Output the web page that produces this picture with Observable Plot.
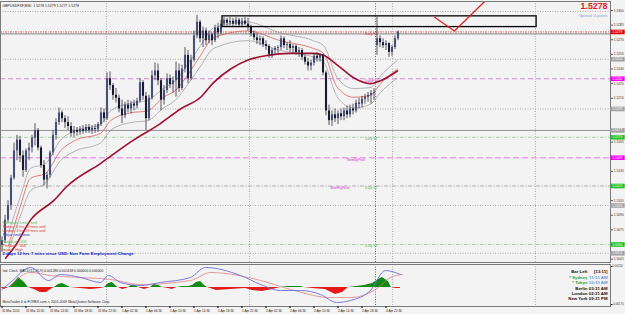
<!DOCTYPE html>
<html><head><meta charset="utf-8">
<script src="https://cdn.jsdelivr.net/npm/d3@7"></script>
<script src="https://cdn.jsdelivr.net/npm/@observablehq/plot@0.6"></script>
<style>
html,body{margin:0;padding:0;background:#f3f3f3;}
#wrap{position:relative;width:625px;height:314px;overflow:hidden;background:#f3f3f3;}
#main,#sub{position:absolute;left:0;}
#main{top:0;} #sub{top:263px;}
svg{overflow:visible;}
</style></head><body><div id="wrap"><div id="main"></div><div id="sub"></div></div>
<script>
// ---------- data ----------
const open = [
1.5059,1.5064,1.5085,1.5100,1.5128,1.5156,1.5167,1.5151,1.5136,1.5156,
1.5159,1.5169,1.5177,1.5159,1.5141,1.5126,1.5131,1.5154,1.5172,1.5185,
1.5195,1.5189,1.5185,1.5181,1.5174,1.5177,1.5175,1.5178,1.5176,1.5180,
1.5177,1.5179,1.5178,1.5183,1.5195,1.5189,1.5230,1.5223,1.5213,1.5210,
1.5199,1.5192,1.5203,1.5199,1.5204,1.5202,1.5207,1.5226,1.5212,1.5189,
1.5210,1.5233,1.5238,1.5228,1.5208,1.5218,1.5230,1.5224,1.5228,1.5238,
1.5220,1.5240,1.5254,1.5230,1.5249,1.5274,1.5288,1.5271,1.5279,1.5269,
1.5275,1.5269,1.5282,1.5277,1.5286,1.5290,1.5287,1.5289,1.5286,1.5290,
1.5285,1.5289,1.5286,1.5283,1.5276,1.5272,1.5269,1.5271,1.5265,1.5263,
1.5255,1.5259,1.5261,1.5262,1.5271,1.5264,1.5265,1.5261,1.5263,1.5257,
1.5259,1.5252,1.5247,1.5243,1.5246,1.5253,1.5251,1.5254,1.5236,1.5197,
1.5187,1.5193,1.5189,1.5194,1.5191,1.5197,1.5193,1.5199,1.5197,1.5205,
1.5204,1.5209,1.5211,1.5213,1.5215,1.5264,1.5271,1.5267,1.5264,1.5266,
1.5257,1.5262,1.5271];
const high = [
1.5068,1.5090,1.5105,1.5131,1.5164,1.5172,1.5171,1.5156,1.5158,1.5164,
1.5172,1.5184,1.5179,1.5161,1.5146,1.5134,1.5156,1.5177,1.5189,1.5200,
1.5197,1.5192,1.5191,1.5185,1.5181,1.5180,1.5181,1.5182,1.5183,1.5183,
1.5182,1.5183,1.5185,1.5200,1.5199,1.5236,1.5237,1.5225,1.5220,1.5213,
1.5208,1.5206,1.5208,1.5207,1.5208,1.5210,1.5230,1.5228,1.5216,1.5213,
1.5238,1.5246,1.5245,1.5230,1.5223,1.5235,1.5234,1.5232,1.5247,1.5245,
1.5244,1.5262,1.5259,1.5254,1.5279,1.5295,1.5290,1.5283,1.5282,1.5279,
1.5277,1.5285,1.5287,1.5290,1.5293,1.5292,1.5293,1.5292,1.5293,1.5292,
1.5292,1.5293,1.5292,1.5285,1.5279,1.5276,1.5274,1.5273,1.5269,1.5265,
1.5261,1.5263,1.5264,1.5274,1.5273,1.5267,1.5269,1.5265,1.5265,1.5262,
1.5261,1.5254,1.5251,1.5249,1.5256,1.5257,1.5255,1.5255,1.5238,1.5203,
1.5197,1.5199,1.5197,1.5199,1.5200,1.5202,1.5203,1.5204,1.5208,1.5210,
1.5212,1.5214,1.5216,1.5218,1.5220,1.5293,1.5274,1.5271,1.5269,1.5267,
1.5264,1.5274,1.5279];
const low = [
1.5052,1.5061,1.5082,1.5095,1.5126,1.5146,1.5144,1.5129,1.5134,1.5146,
1.5154,1.5161,1.5156,1.5138,1.5120,1.5117,1.5128,1.5151,1.5167,1.5182,
1.5185,1.5179,1.5177,1.5170,1.5170,1.5171,1.5172,1.5173,1.5174,1.5174,
1.5173,1.5174,1.5175,1.5181,1.5185,1.5187,1.5218,1.5208,1.5205,1.5195,
1.5184,1.5189,1.5195,1.5194,1.5197,1.5199,1.5205,1.5208,1.5177,1.5187,
1.5208,1.5228,1.5223,1.5197,1.5203,1.5215,1.5220,1.5215,1.5211,1.5216,
1.5218,1.5236,1.5225,1.5228,1.5247,1.5271,1.5267,1.5262,1.5264,1.5266,
1.5264,1.5267,1.5271,1.5275,1.5283,1.5283,1.5284,1.5283,1.5284,1.5283,
1.5283,1.5284,1.5279,1.5273,1.5269,1.5265,1.5264,1.5262,1.5259,1.5251,
1.5251,1.5255,1.5256,1.5259,1.5261,1.5259,1.5257,1.5256,1.5254,1.5252,
1.5249,1.5244,1.5238,1.5238,1.5243,1.5247,1.5247,1.5233,1.5192,1.5182,
1.5181,1.5185,1.5183,1.5187,1.5187,1.5189,1.5190,1.5193,1.5195,1.5199,
1.5200,1.5204,1.5206,1.5204,1.5208,1.5254,1.5262,1.5261,1.5259,1.5252,
1.5253,1.5260,1.5269];
const close = [
1.5064,1.5085,1.5100,1.5128,1.5156,1.5167,1.5151,1.5136,1.5156,1.5159,
1.5169,1.5177,1.5159,1.5141,1.5126,1.5131,1.5154,1.5172,1.5185,1.5195,
1.5189,1.5185,1.5181,1.5174,1.5177,1.5175,1.5178,1.5176,1.5180,1.5177,
1.5179,1.5178,1.5183,1.5195,1.5189,1.5230,1.5223,1.5213,1.5210,1.5199,
1.5192,1.5203,1.5199,1.5204,1.5202,1.5207,1.5226,1.5212,1.5189,1.5210,
1.5233,1.5238,1.5228,1.5208,1.5218,1.5230,1.5224,1.5228,1.5238,1.5220,
1.5240,1.5254,1.5230,1.5249,1.5274,1.5288,1.5271,1.5279,1.5269,1.5275,
1.5269,1.5282,1.5277,1.5286,1.5290,1.5287,1.5289,1.5286,1.5290,1.5285,
1.5289,1.5286,1.5283,1.5276,1.5272,1.5269,1.5271,1.5265,1.5263,1.5255,
1.5259,1.5261,1.5262,1.5271,1.5264,1.5265,1.5261,1.5263,1.5257,1.5259,
1.5252,1.5247,1.5243,1.5246,1.5253,1.5251,1.5254,1.5236,1.5197,1.5187,
1.5193,1.5189,1.5194,1.5191,1.5197,1.5193,1.5199,1.5197,1.5205,1.5204,
1.5209,1.5211,1.5213,1.5215,1.5216,1.5271,1.5267,1.5264,1.5266,1.5257,
1.5262,1.5271,1.5278];

// slow moving average (thick dark red)
const slowBar   = [1.2,4.5,9.5,17.2,21.8,32.8,43.8,52.8,59.5,66.2,70.5,76.2,81.8,88.5,96.2,103.8,107.2,111.8,117.2,122.8,126.2,131.8];
const slowPrice = [1.5046,1.5059,1.5085,1.5105,1.5120,1.5143,1.5167,1.5184,1.5199,1.5211,1.5226,1.5240,1.5249,1.5254,1.5256,1.5256,1.5254,1.5244,1.5231,1.5225,1.5228,1.5238];
// fast moving average and its dotted envelope
const fastBar   = [2.2,6.2,9.5,14.5,19.5,24.5,32.8,36.2,42.8,48.5,53.8,57.8,62.8,66.2,70.5,81.8,92.8,103.8,107.2,111.8,117.2,122.8,126.2,131.8];
const fastPrice = [1.5059,1.5100,1.5128,1.5133,1.5156,1.5167,1.5174,1.5187,1.5195,1.5197,1.5211,1.5218,1.5238,1.5254,1.5272,1.5279,1.5269,1.5261,1.5256,1.5221,1.5211,1.5213,1.5225,1.5240];
const upperPrice = [1.5072,1.5110,1.5138,1.5143,1.5167,1.5177,1.5183,1.5197,1.5205,1.5208,1.5220,1.5228,1.5249,1.5264,1.5282,1.5288,1.5277,1.5269,1.5264,1.5231,1.5220,1.5221,1.5233,1.5249];
const lowerPrice = [1.5054,1.5090,1.5115,1.5123,1.5146,1.5156,1.5164,1.5177,1.5185,1.5187,1.5200,1.5208,1.5228,1.5243,1.5261,1.5269,1.5259,1.5252,1.5247,1.5211,1.5200,1.5204,1.5216,1.5231];

// horizontal levels
const levelPrice = [1.5299,1.5278,1.5276,1.5250,1.5230,1.5199,1.5177,1.5170,1.5149,1.5120,1.5100,1.5060,1.5051];
const levelType  = ["grid","bid","prev","gridL","pivotD","gridL","prevL","sup","pivotW","sup2","gridL","sup","gridL"];
const levelText      = ["Daily R1","DailyPivot","Daily S1","WeeklyPivot","MonthlyPivot","Daily S2","Daily S3"];
const levelTextBar   = [121,121,121,115,109.5,121,121];
const levelTextPrice = [1.5278,1.5230,1.5170,1.5149,1.5120,1.5120,1.5060];
const levelTextType  = ["r","m","g","m","m","g","g"];

const priceTicks = [1.5300,1.5285,1.5270,1.5255,1.5240,1.5225,1.5210,1.5195,1.5180,1.5165,1.5150,1.5135,1.5120,1.5105,1.5090,1.5075,1.5060,1.5045];
const vGridBar = [34.8,82.5,130.2,177.8];
const separatorBar = [124.5];

const boxBar = [73.5,178.2];
const boxPrice = [1.5283,1.5294];
const zigBar = [144.2,150.8,160.8];
const zigPrice = [1.5293,1.5279,1.5309];

// MACD sub-window
const histBar = [0,0.8,2.2,3.5,5.5,7.5,8.8,10.8,12.8,14.8,16.8,17.5,18.8,20.2,21.5,22.8,26.2,29.5,32.8,34.2,35.5,36.8,38.2,38.8,40.2,41.5,42.2,43.2,44.5,45.5,47.5,49.5,50.8,52.2,53.5,55.5,56.8,58.2,60.2,62.2,63.5,64.8,66.2,67.5,68.5,69.5,71.5,76.2,81.2,83.5,86.8,90.2,92.8,95.5,99.5,100.8,103.5,107.8,111.2,113.5,115.5,118.2,120.8,123.5,125.5,126.8,128.8,129.8,131.2,132.8];
const histVal = [-0.0001,-0.0002,0,0.0003,0.0010,0.0005,0,-0.0002,-0.0005,-0.0005,
-0.0001,0,0.0003,0.0004,0.0002,0,-0.0001,-0.0002,-0.0001,0,
0.0004,0.0005,0.0001,0,-0.0002,-0.0001,0,0.0002,0.0002,0,
-0.0002,0,0.0003,0.0002,0,-0.0001,-0.0002,0,0.0001,0.0001,
0.0002,0.0005,0.0006,0.0002,0,-0.0001,-0.0003,-0.0002,-0.0001,-0.0003,
-0.0004,-0.0002,0,0.0001,0.0001,0,-0.0001,-0.0002,-0.0007,-0.0005,
0,0.0001,0.0002,0.0004,0.0008,0.0010,0.0006,0,-0.0001,-0.0001];
const macdBar = [0,2.8,9.5,15.5,19.5,26.2,32.8,35.5,39.5,46.2,52.8,62.8,67.8,79.5,86.2,92.8,99.5,106.2,111.5,116.2,122.8,127.8,132.8];
const macdVal = [-0.0002,0.0005,0.0020,0.0007,0.0013,0.0010,0.0005,0.0012,0.0005,0.0002,0.0005,0.0010,0.0020,0.0012,0.0003,-0.0003,-0.0003,-0.0007,-0.0015,-0.0013,-0.0003,0.0017,0.0013];
const signalBar = [2.8,9.5,16.2,26.2,36.2,46.2,62.8,69.5,86.2,96.2,109.5,116.2,124.5,129.5,133.5];
const signalVal = [0.0002,0.0015,0.0012,0.0010,0.0008,0.0003,0.0007,0.0015,0.0007,-0.0002,-0.0010,-0.0010,-0.0002,0.0010,0.0013];
const subTicks = [0.0021,-0.0017];

const tickBars = [0,8,16,24,32,40,48,56,64,72,80,88,96,104,112,120,128];
const tickLabels = ["31 Mar 2010","31 Mar 10:30","31 Mar 14:30","31 Mar 18:30","31 Mar 22:30","1 Apr 02:30","1 Apr 06:30","1 Apr 10:30","1 Apr 14:30","1 Apr 18:30","1 Apr 22:30","2 Apr 02:30","2 Apr 06:30","2 Apr 10:30","2 Apr 14:30","2 Apr 18:30","4 Apr 22:30"];

const titleText = "GBPUSDFXF,M30  1.5278 1.5279 1.5277 1.5278";
const bigPrice = "1.5278";
const spreadText = "Spread: 4 points";
const legendLines = ["Frankfurt: 0 mins until","Sydney: 6 hrs 29 mins until","London: 4 hrs 29 mins until","Tokyo: until close","Forecast: 190K","Previous: -36K","Impact: High","2 days 12 hrs 7 mins since USD: Non Farm Employment Change"];
const legendKind = ["g","r","r","b","g","r","r","B"];
const subTitle = "Ind. Clock  MACD(12,26,9) 0.001286 0.001418 0.000000 0.000000";
const clockNames = ["Bar Left","* Sydney","* Tokyo","Berlin","London","New York"];
const clockTimes = ["[13:11]","11:31 AM","10:31 AM","03:31 AM","02:31 AM","09:31 PM"];
const clockKind  = ["k","s","s","k","k","k"];
const footerText = "MetaTrader 4 at FOREX.com, c 2001-2009 MetaQuotes Software Corp.";

// ---------- build ----------
const FONT = "Liberation Sans, Arial, sans-serif";
const bars = close.map((c,i)=>({i, o:open[i], h:high[i], l:low[i], c}));
const slow = slowBar.map((b,k)=>({i:b, p:slowPrice[k]}));
const fast = fastBar.map((b,k)=>({i:b, p:fastPrice[k]}));
const upper = fastBar.map((b,k)=>({i:b, p:upperPrice[k]}));
const lower = fastBar.map((b,k)=>({i:b, p:lowerPrice[k]}));
const levels = levelPrice.map((p,k)=>({p, t:levelType[k]}));
const lvlTexts = levelText.map((s,k)=>({s, i:levelTextBar[k], p:levelTextPrice[k], t:levelTextType[k]}));
const hist = histBar.map((b,k)=>({i:b, v:histVal[k]}));
const macd = macdBar.map((b,k)=>({i:b, v:macdVal[k]}));
const signal = signalBar.map((b,k)=>({i:b, v:signalVal[k]}));

const xDomain = [-0.5, 202.83];
const lineStyle = {
  grid:   {stroke:"#9c9c9c", dash:"1,1.5", w:0.8, label:null},
  gridL:  {stroke:"#9c9c9c", dash:"1,1.5", w:0.8, label:"#a4a4a4"},
  bid:    {stroke:"#cc4444", dash:"2,1,1,1", w:0.8, label:"#e00000"},
  prev:   {stroke:"#6a6a6a", dash:null, w:0.8, label:null},
  prevL:  {stroke:"#8a8a8a", dash:null, w:0.9, label:"#a4a4a4"},
  pivotD: {stroke:"#d68ad6", dash:"5,3", w:1, label:"#f000f0"},
  pivotW: {stroke:"#eaa2ea", dash:"6,3", w:1.5, label:"#f000f0"},
  sup:    {stroke:"#8fcf8f", dash:"4,1.5,1,1.5", w:0.8, label:"#22c022"},
  sup2:   {stroke:"#a09aa0", dash:"4,1.5,1,1.5", w:0.8, label:"#22c022"}
};
const textColor = {r:"#e03030", m:"#d030d0", g:"#55bb55", b:"#2030c0", B:"#0a20c8", k:"#111"};

const labeledPrices = levels.filter(l=>lineStyle[l.t].label).map(l=>l.p);
const shownTicks = priceTicks.filter(t=>labeledPrices.every(p=>Math.abs(p-t)>0.00045));

const levelMarks = [];
for (const [t, st] of Object.entries(lineStyle)) {
  const d = levels.filter(l=>l.t===t);
  if (!d.length) continue;
  levelMarks.push(Plot.ruleY(d, {y:"p", stroke:st.stroke, strokeWidth:st.w, strokeDasharray:st.dash}));
}
const labelMarks = [];
for (const [t, st] of Object.entries(lineStyle)) {
  if (!st.label) continue;
  const d = levels.filter(l=>l.t===t);
  if (!d.length) continue;
  labelMarks.push(Plot.ruleY(d, {y:"p", x1:xDomain[1]+0.15, x2:xDomain[1]+4.9, stroke:st.label, strokeWidth:4.6}));
  labelMarks.push(Plot.text(d, {y:"p", x:xDomain[1]+0.55, text:dd=>dd.p.toFixed(4), fill:"#fff", fontSize:3.3, textAnchor:"start", fontFamily:FONT}));
}

const legendMarks = legendLines.map((s,k)=>Plot.text([s], {
  text:d=>d, frameAnchor:"bottom-left", dx:2, dy:[-39,-35,-31,-27,-20,-16,-12,-8][k],
  fill:textColor[legendKind[k]], fontSize: legendKind[k]==="B"?4.3:3.6,
  fontWeight: legendKind[k]==="B"?"bold":"normal", textAnchor:"start", fontFamily:FONT
}));

const main = Plot.plot({
  width:625, height:263, marginLeft:0, marginRight:15, marginTop:1, marginBottom:1,
  style:{background:"transparent", fontFamily:FONT},
  x:{domain:xDomain, axis:null, label:null},
  y:{domain:[1.504154, 1.530923], axis:null, label:null},
  marks:[
    Plot.ruleX(vGridBar, {stroke:"#9c9c9c", strokeDasharray:"1,1.5", strokeWidth:0.8}),
    Plot.ruleX(separatorBar, {stroke:"#4a4a4a", strokeDasharray:"1,1.5", strokeWidth:0.8}),
    ...levelMarks,
    Plot.text(lvlTexts, {x:"i", y:"p", text:"s", fill:d=>textColor[d.t], fontSize:3.3, textAnchor:"start", lineAnchor:"top", dy:0.6, fontFamily:FONT}),
    Plot.line(upper, {x:"i", y:"p", stroke:"#8a8a8a", strokeWidth:0.7, strokeDasharray:"1,1", curve:"monotone-x"}),
    Plot.line(lower, {x:"i", y:"p", stroke:"#8a8a8a", strokeWidth:0.7, strokeDasharray:"1,1", curve:"monotone-x"}),
    Plot.line(fast, {x:"i", y:"p", stroke:"#d9605a", strokeWidth:0.8, curve:"monotone-x"}),
    Plot.line(slow, {x:"i", y:"p", stroke:"#a01030", strokeWidth:1.6, curve:"monotone-x"}),
    Plot.ruleX(bars, {x:"i", y1:"l", y2:"h", stroke:"#2b2b3b", strokeWidth:0.8}),
    Plot.ruleX(bars.filter(d=>d.c>=d.o), {x:"i", y1:"o", y2:"c", stroke:"#48507a", strokeWidth:2.1}),
    Plot.ruleX(bars.filter(d=>d.c<d.o), {x:"i", y1:"o", y2:"c", stroke:"#1b1b30", strokeWidth:2.1}),
    Plot.rect([{x1:boxBar[0], x2:boxBar[1], y1:boxPrice[0], y2:boxPrice[1]}], {x1:"x1", x2:"x2", y1:"y1", y2:"y2", fill:"none", stroke:"#000", strokeWidth:1.3}),
    Plot.line(zigBar.map((b,k)=>({i:b, p:zigPrice[k]})), {x:"i", y:"p", stroke:"#e02020", strokeWidth:1.2}),
    Plot.frame({stroke:"#7a7a7a", strokeWidth:1}),
    Plot.axisY(shownTicks, {anchor:"right", label:null, tickFormat:d=>d.toFixed(4), fontSize:3.3, tickSize:2, tickPadding:1.2, fill:"#333", stroke:"#555", fontFamily:FONT}),
    ...labelMarks,
    Plot.text([titleText], {text:d=>d, frameAnchor:"top-left", dx:2, dy:2.6, fontSize:3.5, fill:"#222", textAnchor:"start", fontFamily:FONT}),
    Plot.text([bigPrice], {text:d=>d, frameAnchor:"top-right", dx:-3, dy:1.2, lineAnchor:"top", fontSize:8.8, fontWeight:"bold", fill:"#e01818", textAnchor:"end", fontFamily:FONT}),
    Plot.text([spreadText], {text:d=>d, frameAnchor:"top-right", dx:-3, dy:13, fontSize:3.9, fill:"#7f9fc8", textAnchor:"end", fontFamily:FONT}),
    ...legendMarks
  ]
});
document.getElementById("main").appendChild(main);

const clockMarks = [];
const rowDy = [5.5,11,16.5,22,27,32];
clockNames.forEach((n,k)=>{
  const kind = clockKind[k];
  clockMarks.push(Plot.text([n], {text:d=>d, frameAnchor:"top-right", dx:-23, dy:rowDy[k], fontSize:4.3, fontWeight:"bold", fill: kind==="s"?"#2e9e2e":"#111", textAnchor:"end", fontFamily:FONT}));
  clockMarks.push(Plot.text([clockTimes[k]], {text:d=>d, frameAnchor:"top-right", dx:-3, dy:rowDy[k], fontSize:4.3, fontWeight:"bold", fill: kind==="s"?"#5a9ad8":"#111", textAnchor:"end", fontFamily:FONT}));
});

const sub = Plot.plot({
  width:625, height:51, marginLeft:0, marginRight:15, marginTop:1, marginBottom:8,
  style:{background:"transparent", fontFamily:FONT},
  x:{domain:xDomain, axis:null, label:null},
  y:{domain:[-0.0019, 0.0023], axis:null, label:null},
  marks:[
    Plot.ruleX(vGridBar, {stroke:"#9c9c9c", strokeDasharray:"1,1.5", strokeWidth:0.8}),
    Plot.ruleX(separatorBar, {stroke:"#4a4a4a", strokeDasharray:"1,1.5", strokeWidth:0.8}),
    Plot.areaY(hist, {x:"i", y:d=>Math.max(0,d.v), fill:"#118a11"}),
    Plot.areaY(hist, {x:"i", y:d=>Math.min(0,d.v), fill:"#e41a1a"}),
    Plot.line(signal, {x:"i", y:"v", stroke:"#e07070", strokeWidth:0.8, strokeDasharray:"1.2,1", curve:"monotone-x"}),
    Plot.line(macd, {x:"i", y:"v", stroke:"#6c6ce0", strokeWidth:0.9, curve:"monotone-x"}),
    Plot.frame({stroke:"#7a7a7a", strokeWidth:1}),
    Plot.axisY(subTicks, {anchor:"right", label:null, tickFormat:d=>d.toFixed(5), fontSize:2.8, tickSize:1.5, tickPadding:0.5, fill:"#333", fontFamily:FONT}),
    Plot.axisX(tickBars, {anchor:"bottom", label:null, tickFormat:d=>tickLabels[tickBars.indexOf(d)], fontSize:3.1, tickSize:2, tickPadding:1, textAnchor:"start", fill:"#222", fontFamily:FONT}),
    Plot.text([subTitle], {text:d=>d, frameAnchor:"top-left", dx:2, dy:5, fontSize:3.4, fill:"#222", textAnchor:"start", fontFamily:FONT}),
    Plot.text([footerText], {text:d=>d, frameAnchor:"bottom-left", dx:2, dy:-4, fontSize:3.4, fill:"#222", textAnchor:"start", fontFamily:FONT}),
    ...clockMarks
  ]
});
document.getElementById("sub").appendChild(sub);
</script>
</body></html>
